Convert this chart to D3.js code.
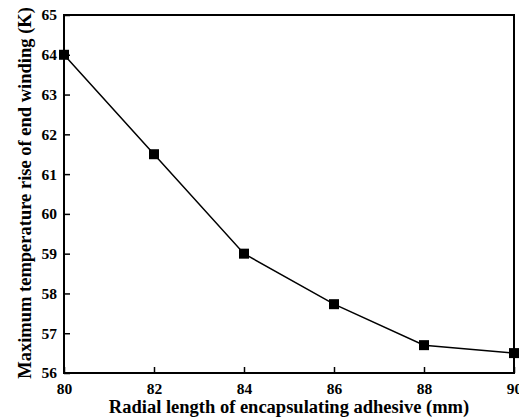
<!DOCTYPE html>
<html>
<head>
<meta charset="utf-8">
<script src="https://cdn.jsdelivr.net/npm/d3@7"></script>
<style>
  body { margin: 0; background: #fff; }
  text { font-family: "Liberation Serif", "Times New Roman", serif; font-weight: bold; fill: #000; }
</style>
</head>
<body>
<svg id="chart" width="519" height="418"></svg>
<script>
const lengths = [80, 82, 84, 86, 88, 90];
const tempRise = [64.0, 61.5, 59.0, 57.73, 56.7, 56.5];
const xTicks = [80, 82, 84, 86, 88, 90];
const yTicks = [56, 57, 58, 59, 60, 61, 62, 63, 64, 65];

const margin = { top: 15, right: 5, bottom: 45, left: 64 };
const width = 519 - margin.left - margin.right;
const height = 418 - margin.top - margin.bottom;

const svg = d3.select("#chart");
const g = svg.append("g").attr("transform", `translate(${margin.left},${margin.top})`);

const x = d3.scaleLinear().domain([80, 90]).range([0, width]);
const y = d3.scaleLinear().domain([56, 65]).range([height, 0]);

// x axis, ticks pointing inward
const xAxis = g.append("g").attr("transform", `translate(0,${height})`)
    .call(d3.axisBottom(x).tickValues(xTicks).tickSizeInner(-6).tickSizeOuter(0).tickPadding(10));
xAxis.select(".domain").remove();
xAxis.selectAll("line").attr("stroke-width", 1.5);
xAxis.selectAll("text").attr("font-size", 15.5).attr("font-family", "Liberation Serif").attr("font-weight", "bold");

const yAxis = g.append("g")
    .call(d3.axisLeft(y).tickValues(yTicks).tickSizeInner(-6).tickSizeOuter(0).tickPadding(7));
yAxis.select(".domain").remove();
yAxis.selectAll("line").attr("stroke-width", 1.5);
yAxis.selectAll("text").attr("font-size", 15.5).attr("font-family", "Liberation Serif").attr("font-weight", "bold");

// frame
g.append("rect").attr("width", width).attr("height", height)
    .attr("fill", "none").attr("stroke", "#000").attr("stroke-width", 2);

const line = d3.line().x((d, i) => x(lengths[i])).y(d => y(d));
g.append("path").datum(tempRise).attr("d", line)
    .attr("fill", "none").attr("stroke", "#000").attr("stroke-width", 1.5);

g.selectAll(".pt").data(tempRise).enter().append("rect")
    .attr("class", "pt")
    .attr("x", (d, i) => x(lengths[i]) - 5).attr("y", d => y(d) - 5)
    .attr("width", 10).attr("height", 10).attr("fill", "#000");

svg.append("text").attr("x", 289).attr("y", 413)
    .attr("text-anchor", "middle").attr("font-size", 18.5)
    .text("Radial length of encapsulating adhesive (mm)");

svg.append("text").attr("transform", `translate(31,193) rotate(-90)`)
    .attr("text-anchor", "middle").attr("font-size", 18.5)
    .text("Maximum temperature rise of end winding (K)");
</script>
</body>
</html>
